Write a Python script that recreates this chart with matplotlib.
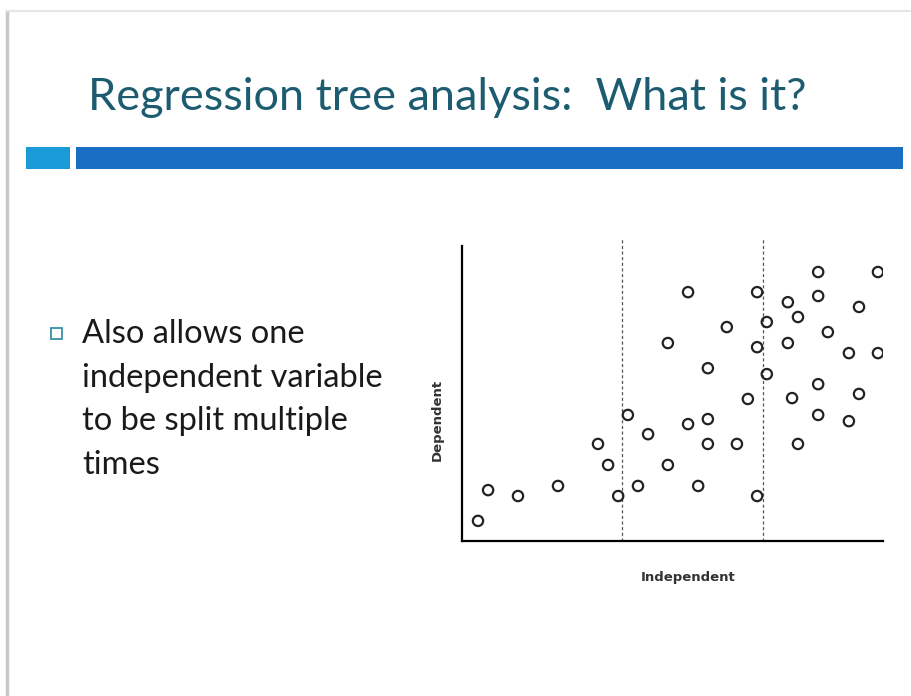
import matplotlib
matplotlib.use('Agg')
import matplotlib.pyplot as plt
from matplotlib.patches import Rectangle

# scatter data (independent, dependent), arbitrary 0-100 units
x_vals = [3.8, 6.2, 13.3, 22.8, 32.3, 34.7, 37.1, 39.4, 41.8, 44.2,
          48.9, 48.9, 53.7, 53.7, 56.1, 58.4, 58.4, 58.4, 62.9, 65.3,
          67.9, 70.1, 70.1, 70.1, 72.4, 72.4, 77.4, 77.4, 78.4, 79.8,
          79.8, 84.6, 84.6, 84.6, 84.6, 86.9, 91.9, 91.9, 94.3, 94.3,
          98.8, 98.8]
y_vals = [6.8, 17.2, 15.2, 18.6, 32.8, 25.7, 15.2, 42.6, 18.6, 36.1,
          66.9, 25.7, 84.1, 39.5, 18.6, 58.4, 41.2, 32.8, 72.3, 32.8,
          48.0, 84.1, 65.5, 15.2, 74.0, 56.4, 80.7, 66.9, 48.3, 75.7,
          32.8, 90.9, 82.8, 53.0, 42.6, 70.6, 63.5, 40.5, 79.1, 49.7,
          90.9, 63.5]
splits = [38.0, 71.5]

title = "Regression tree analysis:  What is it?"
bullet_lines = ["Also allows one", "independent variable",
                "to be split multiple", "times"]

W, H = 912, 696
fig = plt.figure(figsize=(W / 100, H / 100), dpi=100)
fig.patch.set_facecolor('white')

# slide edges
fig.add_artist(plt.Line2D([7 / W, 7 / W], [0, 1 - 12 / H], color='#c8c8c8', lw=2.5))
fig.add_artist(plt.Line2D([7 / W, 1], [1 - 11 / H, 1 - 11 / H], color='#e6e6e6', lw=1.5))

# title
fig.text(88 / W, 1 - 98 / H, title, fontsize=32.5, color='#1d5c70',
         family='Lato', va='center', ha='left')

# header bars
fig.add_artist(Rectangle((26 / W, 1 - 169 / H), 44 / W, 22 / H,
                         transform=fig.transFigure, color='#1a9bd7', lw=0))
fig.add_artist(Rectangle((76 / W, 1 - 169 / H), 827 / W, 22 / H,
                         transform=fig.transFigure, color='#1a6fc4', lw=0))

# bullet
fig.add_artist(Rectangle((51 / W, 1 - 339 / H), 11 / W, 11 / H,
                         transform=fig.transFigure, fill=False,
                         edgecolor='#3a8fa8', lw=1.3))
for i, line in enumerate(bullet_lines):
    fig.text(82 / W, 1 - (334 + i * 43.5) / H, line, fontsize=23.5,
             color='#1a1a1a', family='Lato', va='center', ha='left')

# scatter plot
ax = fig.add_axes([462 / W, 1 - 541 / H, 421 / W, 303 / H])
ax.scatter(x_vals, y_vals, s=55, facecolors='none', edgecolors='#222222',
           linewidths=1.6, zorder=3)
for s in splits:
    ax.axvline(s, color='#555555', lw=0.9, ls=(0, (2.5, 2)), zorder=1)
ax.set_xlim(0, 100)
ax.set_ylim(0, 102.4)
ax.spines['top'].set_visible(False)
ax.spines['right'].set_visible(False)
ax.spines['left'].set_bounds(0, 99.7)
ax.spines['left'].set_linewidth(1.6)
ax.spines['bottom'].set_linewidth(1.6)
ax.set_xticks([])
ax.set_yticks([])
ax.set_xlabel('Independent', fontsize=9.5, fontweight='bold', color='#333333')
ax.set_ylabel('Dependent', fontsize=9.5, fontweight='bold', color='#333333')
ax.xaxis.set_label_coords(0.537, -0.122)
ax.yaxis.set_label_coords(-0.059, 0.40)
ax.xaxis.label.set_va('center')
ax.yaxis.label.set_va('center')

fig.savefig('out.png', dpi=100)
plt.close(fig)
